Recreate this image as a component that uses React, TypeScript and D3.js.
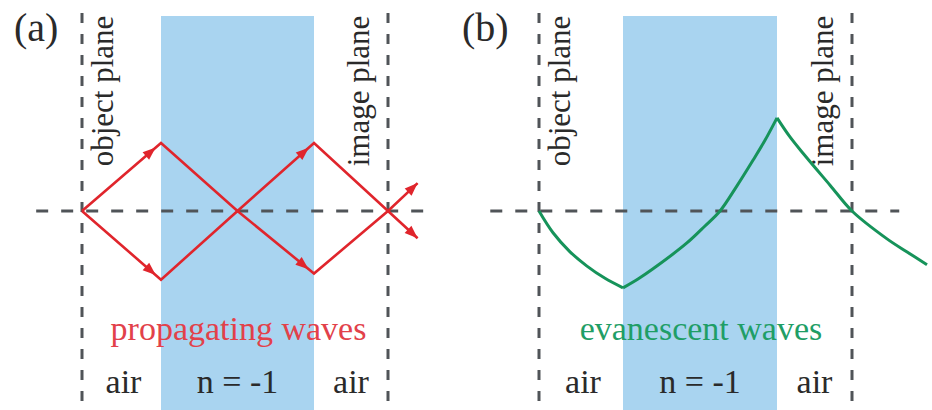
import React from "react";
import * as d3 from "d3";

// ---- data (units: object plane = 0, slab = 1..3, image plane = 4; y: ray height) ----
const panelLabels = ["(a)", "(b)"];
const planeLabels = ["object plane", "image plane"];
const regionLabels = ["air", "n = -1", "air"];
const waveLabels = ["propagating waves", "evanescent waves"];

const planeUnits = [0, 4];
const slabUnits = [1, 3];

const rayUp: [number, number][] = [[0, 0], [1, 1], [2, 0], [3, -0.92], [4, 0], [4.4, 0.41]];
const rayDown: [number, number][] = [[0, 0], [1, -1.01], [2, 0], [3, 1], [4, 0], [4.4, -0.4]];

const evanAir1: [number, number][] = [[0, 0], [0.167, -0.32], [0.369, -0.6], [0.571, -0.81], [0.786, -0.99], [1, -1.13]];
const evanSlab: [number, number][] = [
  [1, -1.13], [1.195, -1.0], [1.39, -0.85], [1.83, -0.47], [2.065, -0.22], [2.26, 0],
  [2.48, 0.37], [2.69, 0.75], [2.844, 1.04], [3, 1.37],
];
const evanAir2: [number, number][] = [
  [3, 1.37], [3.173, 1.09], [3.347, 0.85], [3.707, 0.38], [4, 0], [4.467, -0.41], [4.73, -0.6], [5, -0.79],
];

// ---- layout ----
const W = 932, H = 410;
const FONT = "'Liberation Serif', Tinos, 'Times New Roman', Times, 'DejaVu Serif', 'Noto Serif', serif";
const DASH_COLOR = "#505458";
const RED = "#e0252c";
const RED_TEXT = "#e2414a";
const GREEN = "#16935a";
const GREEN_TEXT = "#1f9e66";
const BLUE = "#a9d4f0";
const TEXT = "#2a2a2a";

const y = d3.scaleLinear().domain([-1, 1]).range([279, 143]);
const xA = d3.scaleLinear().domain([0, 1, 3, 4]).range([82, 161, 314, 388]);
const xB = d3.scaleLinear().domain([0, 1, 3, 4]).range([539, 623, 777, 852]);

function arrowHead(p0: [number, number], p1: [number, number], back: number, key: string) {
  const dx = p1[0] - p0[0], dy = p1[1] - p0[1];
  const L = Math.hypot(dx, dy);
  const ux = dx / L, uy = dy / L;
  const tip = [p1[0] - ux * back, p1[1] - uy * back];
  const len = 13, hw = 5;
  const bx = tip[0] - ux * len, by = tip[1] - uy * len;
  const pts = [
    [tip[0], tip[1]],
    [bx - uy * hw, by + ux * hw],
    [bx + uy * hw, by - ux * hw],
  ];
  return <polygon key={key} points={pts.map((p) => p.join(",")).join(" ")} fill={RED} />;
}

const textStyle = (size: number, color: string): React.CSSProperties => ({
  fontFamily: FONT,
  fontSize: size,
  fill: color,
});

function Panel({ idx, x }: { idx: number; x: d3.ScaleLinear<number, number> }) {
  const axisY = y(0);
  const line = d3.line<[number, number]>().x((d) => x(d[0])).y((d) => y(d[1]));
  const curve = d3
    .line<[number, number]>()
    .x((d) => x(d[0]))
    .y((d) => y(d[1]))
    .curve(d3.curveCatmullRom.alpha(0.5));
  const left = x(planeUnits[0]);
  const right = x(planeUnits[1]);
  const s0 = x(slabUnits[0]);
  const s1 = x(slabUnits[1]);
  const textY = 91;
  const regionCenters = [(left + s0) / 2 + 2, (s0 + s1) / 2, (s1 + right) / 2];

  const rays = [rayUp, rayDown];
  return (
    <g>
      <rect x={s0} y={16} width={s1 - s0} height={H - 16} fill={BLUE} />
      {[left, right].map((px, i) => (
        <line key={"v" + i} x1={px} x2={px} y1={13} y2={H} stroke={DASH_COLOR} strokeWidth={3} strokeDasharray="10 11" />
      ))}
      <line x1={x(-0.58)} x2={x(4.63)} y1={axisY} y2={axisY} stroke={DASH_COLOR} strokeWidth={3} strokeDasharray="12 13" />
      <text transform={`translate(${left + 31},${textY}) rotate(-90)`} textAnchor="middle" style={textStyle(31, TEXT)}>
        {planeLabels[0]}
      </text>
      <text transform={`translate(${right - 19},${textY}) rotate(-90)`} textAnchor="middle" style={textStyle(31, TEXT)}>
        {planeLabels[1]}
      </text>
      <text x={idx === 0 ? 14 : 462} y={41} style={textStyle(40, TEXT)}>
        {panelLabels[idx]}
      </text>
      {idx === 0 ? (
        <g>
          {rays.map((r, i) => (
            <path key={"r" + i} d={line(r) || ""} fill="none" stroke={RED} strokeWidth={2.6} strokeLinejoin="miter" />
          ))}
          {rays.map((r, i) => {
            const P = r.map((d) => [x(d[0]), y(d[1])] as [number, number]);
            return (
              <g key={"ah" + i}>
                {arrowHead(P[0], P[1], 7, "a0")}
                {arrowHead(P[2], P[3], 7, "a1")}
                {arrowHead(P[4], P[5], 0, "a2")}
              </g>
            );
          })}
        </g>
      ) : (
        <g>
          {[evanAir1, evanSlab, evanAir2].map((seg, i) => (
            <path key={"e" + i} d={curve(seg) || ""} fill="none" stroke={GREEN} strokeWidth={3} />
          ))}
        </g>
      )}
      <text x={(s0 + s1) / 2 + 1} y={340} textAnchor="middle" style={textStyle(34, idx === 0 ? RED_TEXT : GREEN_TEXT)}>
        {waveLabels[idx]}
      </text>
      {regionLabels.map((t, i) => (
        <text key={"rl" + i} x={regionCenters[i]} y={393} textAnchor="middle" style={textStyle(34, TEXT)}>
          {t}
        </text>
      ))}
    </g>
  );
}

export default function App() {
  return (
    <svg
      width={W}
      height={H}
      viewBox={`0 0 ${W} ${H}`}
      style={{ position: "absolute", left: 0, top: 0, background: "#fff" }}
    >
      <rect width={W} height={H} fill="#fff" />
      <Panel idx={0} x={xA} />
      <Panel idx={1} x={xB} />
    </svg>
  );
}
